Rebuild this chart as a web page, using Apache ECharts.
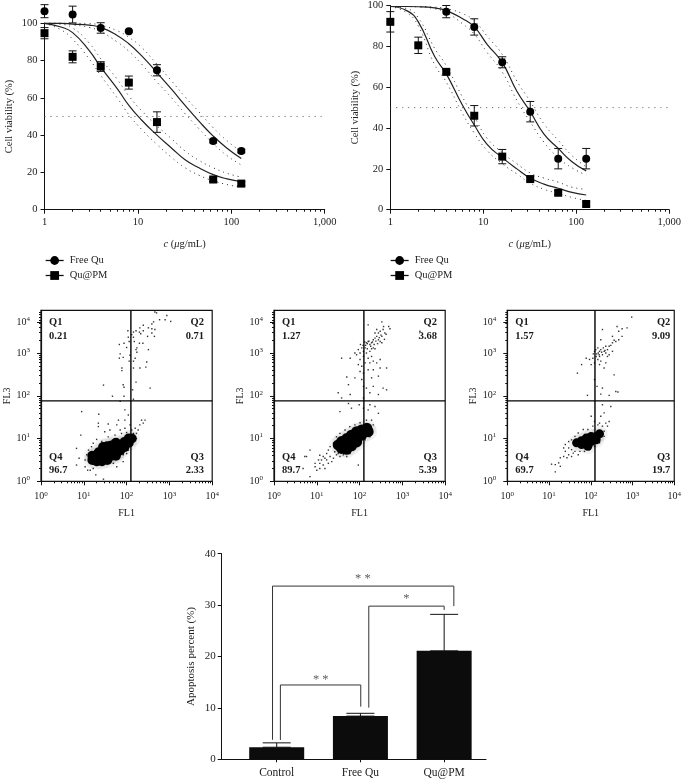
<!DOCTYPE html>
<html><head><meta charset="utf-8">
<style>html,body{margin:0;padding:0;background:#fff}#c{width:684px;height:781px}</style>
<script src="https://cdn.jsdelivr.net/npm/echarts@6/dist/echarts.min.js"></script></head>
<body><div id="c"></div>
<script>
// ---------- data: viability panels ----------
var doseTicks=[1,10,100,1000];
var doseMinor=[2,3,4,5,6,7,8,9,20,30,40,50,60,70,80,90,200,300,400,500,600,700,800,900];
var curveDoses=[1,1.5,2,3,4,6,8,11,16,23,32,45,64,90,128];
var a_free=[[1,106.5,3.5],[2,104.7,4.5],[4,97.5,2.8],[8,95.8,0.5],[16,74.8,3],[64,36.8,1],[128,31.5,1]];
var a_pm=[[1,94.7,3],[2,82,3.2],[4,76.8,2.6],[8,68.2,3.5],[16,47,5.5],[64,16.2,1],[128,14,1]];
var a_freeFit=[100,100,99.6,99,97.8,93.5,89,82.5,73.5,64.5,56,47.5,39.5,33,27.5];
var a_freeHi=[100,100,100,99.8,99,96,92.5,87,78,69,60.5,52.5,44,37,31];
var a_freeLo=[100,100,99.2,97.8,95.5,90,85,78,68.5,60,51.5,43.5,35.5,29,24];
var a_pmFit=[100,98,95,85.5,76.5,65,56,48,40,33,26.8,22.5,18.8,16.5,15];
var a_pmHi=[100,99.5,97.5,89.5,81,70,61,53,45,38,31.5,26.5,22.5,19.5,17.5];
var a_pmLo=[100,96.5,91.5,81,72,60,51,43,35,28,22.5,18.5,15.5,13.5,12];
var b_free=[[4,97,3],[8,89.5,4],[16,72.2,2.7],[32,48,5],[64,25,5],[128,25,5]];
var b_pm=[[1,92,5],[2,80.5,4],[4,67.5,1],[8,46,5],[16,26,3.5],[32,15,1],[64,8.3,1],[128,2.8,1]];
var b_freeFit=[99.5,99.5,99.4,98.8,97.5,93.5,89.5,81,72,58,48,37,30,23.5,19];
var b_freeHi=[99.5,99.5,99.5,99.2,98.5,96,92.5,85,76,63,53,42,34,26.5,21];
var b_freeLo=[99.5,99.5,99.3,98.4,96.5,91,86,77,67.5,53.5,43,33,25.5,20.5,17];
var b_pmFit=[99.5,97.5,92,75,66.5,51,41.5,32,25.5,20,15.5,12.5,10.5,8.5,7.2];
var b_pmHi=[99.5,98.5,94,79,70.5,55,45.5,35,28,22.5,18,15.5,13.5,11,10];
var b_pmLo=[99.5,96.5,90,71,62.5,47,37.5,29,22.5,17.5,13,10,8,6,4.5];
var viabilityCutoff=50;
// ---------- data: flow cytometry (log10 FL1, log10 FL3) ----------
var flowMajor=[1,10,100,1000,10000];
var flowYTicks=[1,10,100,1000,5300];
var flowYExp=['0','1','2','3','4'];
var flowXExp=['0','1','2','3','4'];
var flowMinor=[2,3,4,5,6,7,8,9,20,30,40,50,60,70,80,90,200,300,400,500,600,700,800,900,2000,3000,4000,5000,6000,7000,8000,9000];
var gateFL1=126, gateFL3=76;
var p1Labels=['Q1','0.21','Q2','0.71','Q4','96.7','Q3','2.33'];
var p2Labels=['Q1','1.27','Q2','3.68','Q4','89.7','Q3','5.39'];
var p3Labels=['Q1','1.57','Q2','9.09','Q4','69.7','Q3','19.7'];
var p1Core=[[1.2,.6],[1.25,.58],[1.2,.5],[1.3,.47],[1.42,.47],[1.35,.55],[1.35,.68],[1.45,.55],[1.45,.68],[1.45,.8],[1.55,.5],[1.55,.58],[1.55,.7],[1.55,.82],[1.65,.6],[1.65,.72],[1.65,.84],[1.75,.6],[1.75,.65],[1.75,.78],[1.75,.9],[1.85,.72],[1.85,.85],[1.95,.8],[1.95,.92],[2.05,.9],[2.05,1.0],[2.12,1.0]];
var p1Dots=[[2.66,3.96],[2.70,3.94],[2.94,3.88],[3.03,3.74],[2.90,3.78],[2.77,3.78],[2.63,3.73],[2.59,3.68],[2.39,3.65],[2.31,3.59],[2.51,3.59],[2.59,3.57],[2.66,3.55],[2.30,3.49],[2.39,3.52],[2.33,3.45],[2.59,3.47],[2.03,3.52],[2.16,3.49],[2.22,3.52],[2.04,3.37],[2.12,3.43],[2.16,3.37],[2.49,3.39],[2.65,3.39],[2.18,3.27],[2.30,3.23],[2.38,3.23],[1.83,3.20],[1.94,3.23],[2.00,3.13],[2.06,3.27],[2.24,3.12],[2.22,3.08],[2.51,3.08],[2.24,3.02],[1.85,2.98],[1.92,2.90],[1.83,2.88],[2.08,2.95],[2.06,2.81],[2.20,2.88],[2.16,2.81],[1.89,2.65],[1.89,2.59],[2.16,2.65],[2.31,2.65],[2.45,2.67],[2.47,2.79],[2.22,2.32],[1.46,2.25],[1.92,2.26],[1.94,2.20],[2.55,2.18],[2.14,2.14],[1.94,1.99],[1.67,1.99],[2.16,1.92],[1.85,1.87],
[.95,1.63],[1.35,1.57],[.93,1.08],[1.34,1.36],[1.34,1.28],[1.57,1.34],[1.81,1.43],[1.77,1.32],[1.61,1.20],[1.49,1.16],[1.85,1.20],[1.96,1.67],[2.04,1.55],[1.96,1.43],[2.35,1.43],[2.43,1.43],[2.31,1.32],[2.39,1.36],[2.27,1.20],[2.08,1.32],[2.20,1.24],[1.96,1.24],[.83,.77],[.89,.54],[.83,.38],[1.03,.34],[1.09,.26],[1.15,.26],[1.22,.30],[1.28,.15],[1.46,.05],[1.92,.46],[1.77,.34],[2.00,.65],[2.20,.97],
[1.11,.73],[1.22,.89],[1.30,.98],[1.42,.93],[1.57,1.04],[1.73,1.08],[1.88,1.12],[2.00,1.14],[2.12,1.20],[2.16,1.12],[2.23,1.12],[2.23,1.00],[1.18,.81],[1.07,.62],[1.03,.50],[1.15,.42],[1.22,.42],[1.34,.38],[1.46,.38],[1.57,.42],[1.69,.42],[1.81,.54],[1.92,.62],[2.04,.73],[2.12,.85],[2.18,.97]];
var p2Core=[[1.50,.85],[1.58,.93],[1.58,.77],[1.70,1.00],[1.70,.85],[1.70,.75],[1.81,1.08],[1.81,.93],[1.81,.83],[1.93,1.16],[1.93,1.00],[1.93,.92],[2.05,1.20],[2.05,1.08],[2.17,1.24],[2.20,1.16]];
var p2Dots=[[.96,.42],[1.04,.50],[1.07,.42],[1.15,.58],[1.19,.54],[1.27,.73],[1.31,.81],[1.23,.65],[1.39,.89],[1.46,1.04],[1.54,1.12],[1.66,1.20],[1.77,1.28],[1.89,1.32],[2.01,1.37],[2.16,1.43],[2.28,1.43],[2.32,1.32],[1.62,.62],[1.54,.58],[1.46,.62],[1.39,.54],[1.35,.46],[1.27,.42],[1.19,.30],[1.07,.30],[1.00,.26],[.96,.34],[.76,.58],[.68,.30],[.84,.11],[1.70,.58],[1.77,.65],[1.97,.38],[2.01,.89],[2.13,.97],[2.24,1.04],[1.70,.73],[1.89,.81],[2.09,1.04],[1.07,.61],[1.11,.50],[1.15,.38],[1.23,.50],[1.31,.58],[1.42,.69],[1.50,.65],[1.74,1.82],[1.81,1.71],[1.99,1.79],[2.09,1.71],[2.20,1.67],[2.44,1.59],[2.24,1.79],[2.36,1.75],[1.54,1.63],[.84,.73],[.72,.58],
[2.16,3.24],[2.20,3.27],[2.24,3.20],[2.28,3.24],[2.32,3.31],[2.36,3.35],[2.40,3.39],[2.44,3.31],[2.48,3.27],[2.32,3.12],[2.13,3.12],[2.05,3.12],[1.97,3.08],[1.89,3.00],[1.93,2.96],[2.01,3.00],[2.09,3.04],[2.16,3.00],[2.24,3.04],[2.44,3.47],[2.48,3.51],[2.55,3.55],[2.71,3.57],[2.59,3.47],[2.52,3.39],[2.52,3.24],[2.36,3.47],[2.40,3.55],[2.20,3.66],[2.52,3.73],[2.28,2.92],[2.20,2.88],[2.09,2.92],[2.01,2.85],[1.97,2.73],[2.05,2.69],[2.13,2.77],[2.24,2.77],[2.32,2.81],[2.40,2.77],[2.48,2.85],[1.78,2.88],[1.58,2.88],[2.01,2.57],[2.09,2.53],[2.20,2.61],[2.32,2.61],[2.48,2.65],[2.63,2.65],[1.70,2.44],[1.74,2.26],[1.89,2.42],[2.05,2.38],[2.28,2.42],[2.44,2.46],[2.09,2.22],[2.16,2.18],[2.32,2.22],[2.55,2.18],[2.63,2.14],[2.24,2.07],[2.44,2.03],[1.78,2.03],[1.50,2.07],[1.58,1.95],[2.09,1.95],[3.41,3.51],[3.40,3.35],
[2.14,3.18],[2.18,3.22],[2.22,3.28],[2.26,3.16],[2.30,3.26],[2.34,3.20],[2.38,3.28],[2.42,3.22],[2.46,3.36],[2.50,3.42],[2.18,3.10],[2.28,3.10],[2.36,3.10],[2.12,3.26],[2.08,3.18],[2.02,3.20],[2.58,3.32],[2.62,3.44],[2.56,3.62],[2.68,3.62]];
var p3Core=[[1.66,.90],[1.78,.95],[1.78,.86],[1.89,1.01],[1.89,.90],[2.01,1.05],[2.01,.93],[2.13,1.05],[2.13,.97],[2.21,1.11],[1.93,.82]];
var p3Dots=[[1.39,.86],[1.47,.93],[1.54,.97],[1.62,1.05],[1.70,1.13],[1.82,1.21],[1.93,1.21],[2.05,1.29],[2.17,1.32],[2.28,1.29],[2.36,1.36],[2.44,1.40],[2.32,1.17],[2.01,1.52],[2.09,1.40],[2.24,1.52],[2.32,1.60],[2.48,1.75],[2.28,1.79],[2.21,1.36],[1.47,.78],[1.54,.74],[1.62,.70],[1.74,.70],[1.85,.70],[1.97,.74],[2.09,.82],[2.21,.90],[2.32,1.05],[1.35,.78],[1.39,.70],[1.54,.58],[1.43,.55],[1.35,.58],[1.27,.55],[1.23,.43],[1.15,.39],[1.27,.35],[1.15,.22],[1.06,.40],[1.70,.62],[1.58,.66],[1.47,.62],[2.17,1.17],[2.40,1.29],
[2.98,3.84],[2.87,3.59],[2.75,3.57],[2.63,3.62],[2.67,3.51],[2.75,3.39],[2.60,3.27],[2.67,3.31],[2.52,3.24],[2.44,3.16],[2.36,3.16],[2.40,3.08],[2.32,3.04],[2.24,3.08],[2.28,3.55],[2.52,3.39],[2.24,3.31],[2.17,3.12],[2.21,3.04],[2.09,3.04],[2.13,2.92],[2.21,2.92],[2.28,2.96],[2.36,3.00],[2.44,2.96],[2.52,3.04],[2.05,2.88],[1.97,2.85],[1.89,2.88],[2.01,2.73],[2.24,2.81],[2.36,2.77],[2.32,2.65],[1.78,2.73],[1.68,2.53],[2.56,2.49],[2.40,2.92],[2.17,2.85],[2.09,2.77],[2.15,2.22],[2.28,2.18],[2.44,2.01],[2.60,2.10],[2.65,2.09],[1.92,2.01],[2.24,2.04],[2.09,2.38],[2.21,2.73],
[2.14,2.98],[2.18,3.00],[2.12,3.08],[2.06,2.98],[2.26,3.02],[2.30,3.12],[2.34,3.06],[2.20,2.96],[2.48,3.18],[2.56,3.30]];
// ---------- data: bar panel ----------
var barCategories=['Control','Free Qu','Qu@PM'];
var barPositions=[0,1,2];
var barValues=[2.35,8.4,21.1];
var barErrorTops=[3.2,8.95,28.2];
var bracketAll=[[-0.05,3.8],[-0.05,33.7],[2.116,33.7],[2.116,29.8]];
var bracketFree=[[1.10,10.05],[1.10,29.8],[2.0,29.8],[2.0,29.05]];
var bracketControl=[[0.044,3.76],[0.044,14.46],[1.004,14.46],[1.004,10.24]];
var starMarks=[[1.03,35.1,'* *'],[1.55,31.3,'*'],[0.526,15.45,'* *']];

// ---------- build ----------
var F='"Liberation Serif"', INK='#222';
var grids=[],xAxes=[],yAxes=[],series=[],legends=[],graphics=[];
function addGrid(l,t,w,h,extra){grids.push(Object.assign({left:l,top:t,width:w,height:h,containLabel:false},extra||{}));return grids.length-1;}
function errRender(cap){return function(p,api){
  var x=api.value(0),lo=api.value(1),hi=api.value(2);
  var a=api.coord([x,lo]),b=api.coord([x,hi]);
  var st={stroke:'#111',lineWidth:1,fill:null};
  return {type:'group',children:[
    {type:'line',shape:{x1:a[0],y1:a[1],x2:b[0],y2:b[1]},style:st},
    {type:'line',shape:{x1:a[0]-cap,y1:a[1],x2:a[0]+cap,y2:a[1]},style:st},
    {type:'line',shape:{x1:b[0]-cap,y1:b[1],x2:b[0]+cap,y2:b[1]},style:st}]};
};}
function zipDose(v){return curveDoses.map(function(d,i){return [d,v[i]];});}
function viability(l,t,w,h,free,pm,fFit,fHi,fLo,pFit,pHi,pLo,legLeft){
  var g=addGrid(l,t,w,h);
  var xi=xAxes.length, yi=yAxes.length;
  xAxes.push({type:'log',logBase:10,min:1,max:1000,gridIndex:g,position:'bottom',
    name:'{i|c} ({i|\u03bc}g/mL)',nameLocation:'middle',nameGap:29,
    nameTextStyle:{rich:{i:{fontStyle:'italic',fontFamily:F,fontSize:10.5,color:INK}},fontFamily:F,fontSize:10.5,color:INK},
    axisLine:{show:true,onZero:false,lineStyle:{color:'#111',width:1}},
    axisTick:{show:true,length:4,customValues:doseTicks,lineStyle:{color:'#111'}},
    axisLabel:{customValues:doseTicks,fontFamily:F,fontSize:10.5,color:INK,margin:7,formatter:function(v){return Number(v).toLocaleString('en-US');}},
    splitLine:{show:false},minorTick:{show:false}});
  xAxes.push({type:'log',logBase:10,min:1,max:1000,gridIndex:g,position:'bottom',
    axisLine:{show:false,onZero:false},axisTick:{show:true,length:2,customValues:doseMinor,lineStyle:{color:'#111'}},
    axisLabel:{show:false},splitLine:{show:false}});
  yAxes.push({type:'value',min:0,max:100,interval:20,gridIndex:g,
    name:'Cell viability (%)',nameLocation:'middle',nameGap:29.5,
    nameTextStyle:{fontFamily:F,fontSize:10.5,color:INK},
    axisLine:{show:true,onZero:false,lineStyle:{color:'#111',width:1}},
    axisTick:{show:true,length:4,lineStyle:{color:'#111'}},
    axisLabel:{fontFamily:F,fontSize:10.5,color:INK,margin:7},splitLine:{show:false}});
  function line(name,data,style){series.push({name:name,type:'line',xAxisIndex:xi,yAxisIndex:yi,data:data,symbol:'none',smooth:true,clip:false,lineStyle:style,z:3});}
  [fHi,fLo,pHi,pLo].forEach(function(v,i){line('band'+i,zipDose(v),{color:'#333',width:1,type:[1,4]});});
  line('Free Qu fit',zipDose(fFit),{color:'#222',width:1.2});
  line('Qu@PM fit',zipDose(pFit),{color:'#222',width:1.2});
  line('IC50 reference',[[1,viabilityCutoff],[1000,viabilityCutoff]],{color:'#555',width:1,type:[1,5]});
  [free,pm].forEach(function(d){series.push({type:'custom',name:'error',xAxisIndex:xi,yAxisIndex:yi,clip:false,z:4,
    renderItem:errRender(4),encode:{x:0,y:[1,2]},
    data:d.map(function(r){return [r[0],r[1]-r[2],r[1]+r[2]];})});});
  series.push({name:'Free Qu',type:'line',xAxisIndex:xi,yAxisIndex:yi,clip:false,z:5,symbol:'circle',symbolSize:8,showSymbol:true,showAllSymbol:true,
    itemStyle:{color:'#000'},lineStyle:{width:0,opacity:0},data:free.map(function(r){return [r[0],r[1]];})});
  series.push({name:'Qu@PM',type:'line',xAxisIndex:xi,yAxisIndex:yi,clip:false,z:5,symbol:'rect',symbolSize:8,showSymbol:true,showAllSymbol:true,
    itemStyle:{color:'#000'},lineStyle:{width:0,opacity:0},data:pm.map(function(r){return [r[0],r[1]];})});
  legends.push({left:legLeft,top:255,padding:0,orient:'vertical',itemWidth:18,itemHeight:11,itemGap:4,data:['Free Qu','Qu@PM'],selectedMode:false,
    textStyle:{fontFamily:F,fontSize:10.5,color:INK,padding:[0,0,0,1]},lineStyle:{width:1.3,opacity:1,color:'#111'},itemStyle:{color:'#000'}});
}
viability(44.5,23.3,280.2,186.4,a_free,a_pm,a_freeFit,a_freeHi,a_freeLo,a_pmFit,a_pmHi,a_pmLo,45);
viability(390.3,4,280,205.7,b_free,b_pm,b_freeFit,b_freeHi,b_freeLo,b_pmFit,b_pmHi,b_pmLo,390);

function fromLog(a){return a.map(function(p){return [Math.pow(10,p[0]),Math.pow(10,p[1])];});}
function flow(l,core,dots,coreSize,labels){
  var t=310.3,w=171.2,h=171;
  var g=addGrid(l,t,w,h,{show:true,borderColor:'#111',borderWidth:1.2,backgroundColor:'transparent'});
  var xi=xAxes.length, yi=yAxes.length;
  function sup(e){return '{a|10}{b|'+e+'}';}
  var rich={a:{fontFamily:F,fontSize:10,color:INK},b:{fontFamily:F,fontSize:7,color:INK,padding:[0,0,6,0]}};
  xAxes.push({type:'log',logBase:10,min:1,max:10000,gridIndex:g,position:'bottom',name:'FL1',nameLocation:'middle',nameGap:27,
    nameTextStyle:{fontFamily:F,fontSize:10,color:INK},
    axisLine:{show:true,onZero:false,lineStyle:{color:'#111',width:1.2}},
    axisTick:{show:true,length:4,customValues:flowMajor,lineStyle:{color:'#111'}},
    axisLabel:{customValues:flowMajor,margin:9,formatter:function(v){return sup(flowXExp[flowMajor.indexOf(Math.round(v))]);},rich:rich},splitLine:{show:false}});
  xAxes.push({type:'log',logBase:10,min:1,max:10000,gridIndex:g,position:'bottom',axisLine:{show:false,onZero:false},
    axisTick:{show:true,length:2,customValues:flowMinor,lineStyle:{color:'#111'}},axisLabel:{show:false},splitLine:{show:false}});
  yAxes.push({type:'log',logBase:10,min:1,max:10000,gridIndex:g,position:'left',name:'FL3',nameLocation:'middle',nameGap:29,
    nameTextStyle:{fontFamily:F,fontSize:10,color:INK},
    axisLine:{show:true,onZero:false,lineStyle:{color:'#111',width:1.2}},
    axisTick:{show:true,length:4,customValues:flowYTicks,lineStyle:{color:'#111'}},
    axisLabel:{customValues:flowYTicks,margin:11,formatter:function(v){return sup(flowYExp[flowYTicks.indexOf(Math.round(v))]);},rich:rich},splitLine:{show:false}});
  yAxes.push({type:'log',logBase:10,min:1,max:10000,gridIndex:g,position:'left',axisLine:{show:false,onZero:false},
    axisTick:{show:true,length:2,customValues:flowMinor,lineStyle:{color:'#111'}},axisLabel:{show:false},splitLine:{show:false}});
  series.push({name:'halo',type:'scatter',xAxisIndex:xi,yAxisIndex:yi,data:fromLog(core),symbol:'circle',symbolSize:coreSize+7,itemStyle:{color:'#666',opacity:.09,borderWidth:0},z:1,silent:true});
  series.push({name:'core',type:'scatter',xAxisIndex:xi,yAxisIndex:yi,data:fromLog(core),symbol:'circle',symbolSize:coreSize,itemStyle:{color:'#000',opacity:1,borderWidth:0},z:2,silent:true});
  series.push({name:'events',type:'scatter',xAxisIndex:xi,yAxisIndex:yi,data:fromLog(dots),symbol:'rect',symbolSize:1.4,itemStyle:{color:'#000',opacity:.8},z:2,silent:true});
  series.push({name:'gateV',type:'line',xAxisIndex:xi,yAxisIndex:yi,symbol:'none',data:[[gateFL1,1],[gateFL1,10000]],lineStyle:{color:'#000',width:1.4},z:4});
  series.push({name:'gateH',type:'line',xAxisIndex:xi,yAxisIndex:yi,symbol:'none',data:[[1,gateFL3],[10000,gateFL3]],lineStyle:{color:'#000',width:1.4},z:4});
  var tx=function(i,x,y,al){graphics.push({type:'text',x:l+x,y:y,style:{text:labels[i],x:0,y:0,font:'bold 10.5px '+F,fill:'#1a1a1a',textAlign:al,textVerticalAlign:'middle'},z:10});};
  tx(0,8,322,'left');tx(1,8,336,'left');tx(2,163,322,'right');tx(3,163,336,'right');
  tx(4,8,457,'left');tx(5,8,470,'left');tx(6,163,457,'right');tx(7,163,470,'right');
}
flow(41,p1Core,p1Dots,10,p1Labels);
flow(274,p2Core,p2Dots,11,p2Labels);
flow(507.3,p3Core,p3Dots,9,p3Labels);

// bar panel
(function(){
  var g=addGrid(221.7,553.7,264.3,205.6);
  var xi=xAxes.length, yi=yAxes.length;
  xAxes.push({type:'value',min:-0.657,max:2.5,gridIndex:g,position:'bottom',
    axisLine:{show:true,onZero:false,lineStyle:{color:'#111',width:1}},
    axisTick:{show:true,length:3,customValues:barPositions,lineStyle:{color:'#111'}},
    axisLabel:{customValues:barPositions,fontFamily:F,fontSize:11.5,color:INK,margin:8,formatter:function(v){return barCategories[v];}},splitLine:{show:false}});
  yAxes.push({type:'value',min:0,max:40,interval:10,gridIndex:g,name:'Apoptosis percent (%)',nameLocation:'middle',nameGap:25,
    nameTextStyle:{fontFamily:F,fontSize:11,color:INK},
    axisLine:{show:true,onZero:false,lineStyle:{color:'#111',width:1}},axisTick:{show:true,length:4,lineStyle:{color:'#111'}},
    axisLabel:{fontFamily:F,fontSize:11,color:INK,margin:6},splitLine:{show:false}});
  series.push({name:'Apoptosis',type:'bar',xAxisIndex:xi,yAxisIndex:yi,barWidth:55,itemStyle:{color:'#0c0c0c'},z:3,
    data:barPositions.map(function(p,i){return [p,barValues[i]];})});
  series.push({type:'custom',name:'barError',xAxisIndex:xi,yAxisIndex:yi,z:4,renderItem:errRender(14),encode:{x:0,y:[1,2]},
    data:barPositions.map(function(p,i){return [p,barValues[i],barErrorTops[i]];})});
  [bracketAll,bracketFree,bracketControl].forEach(function(b,i){
    series.push({name:'bracket'+i,type:'line',xAxisIndex:xi,yAxisIndex:yi,data:b,symbol:'none',clip:false,lineStyle:{color:'#333',width:1},z:5});});
  series.push({name:'stars',type:'scatter',xAxisIndex:xi,yAxisIndex:yi,symbolSize:1,itemStyle:{color:'transparent'},z:6,
    data:starMarks.map(function(s){return {value:[s[0],s[1]],label:{formatter:s[2]}};}),
    label:{show:true,position:'inside',fontFamily:F,fontSize:12.5,color:'#333'}});
})();

var chart=echarts.init(document.getElementById('c'),null,{renderer:'canvas',width:684,height:781});
chart.setOption({animation:false,backgroundColor:'#fff',textStyle:{fontFamily:F},grid:grids,xAxis:xAxes,yAxis:yAxes,series:series,legend:legends,graphic:graphics});
</script></body></html>
